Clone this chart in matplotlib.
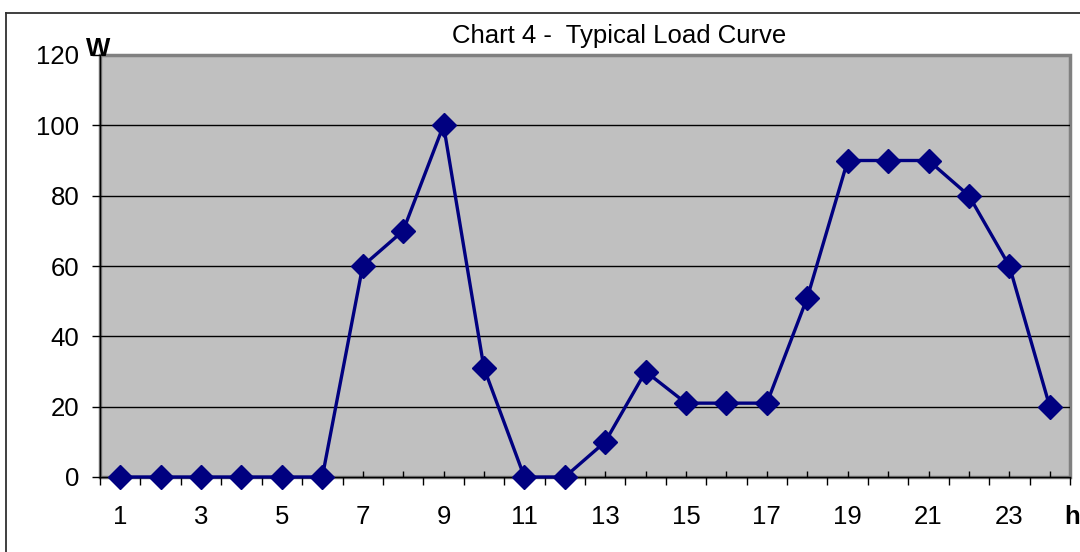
import matplotlib
matplotlib.use("Agg")
import matplotlib.pyplot as plt
from matplotlib.patches import Rectangle
from matplotlib.lines import Line2D

hours = list(range(1, 25))
load_w = [0, 0, 0, 0, 0, 0, 60, 70, 100, 31, 0, 0, 10, 30, 21, 21, 21, 51, 90, 90, 90, 80, 60, 20]
yticks = [0, 20, 40, 60, 80, 100, 120]
title = "Chart 4 -  Typical Load Curve"

plt.rcParams['font.family'] = ['Liberation Sans', 'DejaVu Sans']

W, H = 1080, 552
fig = plt.figure(figsize=(W / 100, H / 100), dpi=100)
fig.patch.set_facecolor('white')

# figure frame (left and top visible)
fig.add_artist(Line2D([6 / W, 6 / W], [1 - 13 / H, 0], transform=fig.transFigure, color='#303030', lw=1.3))
fig.add_artist(Line2D([6 / W, 1], [1 - 13 / H, 1 - 13 / H], transform=fig.transFigure, color='#303030', lw=1.3))

left, right = 100 / W, 1070 / W
bottom, top = 1 - 477 / H, 1 - 55 / H
ax = fig.add_axes([left, bottom, right - left, top - bottom])
ax.set_facecolor('#C0C0C0')

ax.set_xlim(0.5, 24.5)
ax.set_ylim(0, 120)

# gray plot-area border
ax.add_patch(Rectangle((0, 0), 1, 1, transform=ax.transAxes, fill=False,
                       edgecolor='#808080', lw=2.5, clip_on=False, zorder=1))

for y in yticks[1:-1]:
    ax.axhline(y, color='black', lw=1.0, zorder=2)

ax.plot(hours, load_w, color='#000080', lw=2.4, marker='D', markersize=12,
        markerfacecolor='#000080', markeredgecolor='#000080', zorder=5, clip_on=False)

for s in ['top', 'right']:
    ax.spines[s].set_visible(False)
for s in ['left', 'bottom']:
    ax.spines[s].set_color('black')
    ax.spines[s].set_linewidth(1.0)
    ax.spines[s].set_zorder(3)

ax.set_yticks(yticks)
ax.set_yticklabels([str(v) for v in yticks])
ax.tick_params(axis='y', direction='out', length=6, width=1, labelsize=18.5, pad=9, colors='black')

# x: major ticks at category boundaries (outward), labels at odd categories
bounds = [h - 0.5 for h in hours] + [24.5]
ax.set_xticks(bounds)
ax.set_xticklabels([''] * len(bounds))
ax.tick_params(axis='x', which='major', direction='out', length=6, width=1)
ax.set_xticks(hours, minor=True)
ax.tick_params(axis='x', which='minor', direction='in', length=4.5, width=1, labelsize=18.5, pad=20.5)
ax.set_xticklabels([str(h) if h % 2 == 1 else '' for h in hours], minor=True)

fig.text(619 / W, 1 - 36 / H, title, ha='center', va='center', fontsize=18.5)
fig.text(98 / W, 1 - 49 / H, 'W', ha='center', va='center', fontsize=18.5, fontweight='bold')
fig.text(1064 / W, 1 - 517 / H, 'h', ha='left', va='center', fontsize=18.5, fontweight='bold')

fig.savefig('out.png', dpi=100)
